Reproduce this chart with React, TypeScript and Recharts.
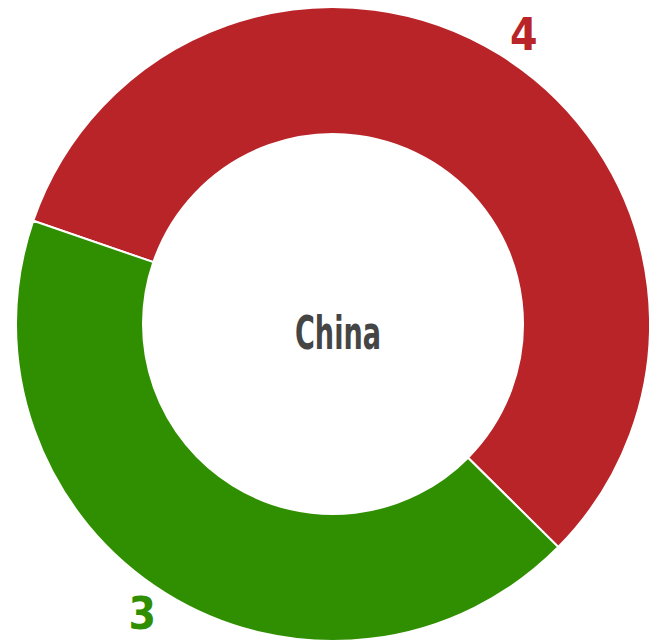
import React from "react";
import { PieChart, Pie, Cell } from "recharts";

/* data ------------------------------------------------------------ */
const CATEGORIES = ["A", "B"];
const VALUES = [4, 3];
const COLORS = ["#B92429", "#2F8F00"];
const CENTER_LABEL = "China";

const FONT = "'Liberation Sans Narrow', 'DejaVu Sans Condensed', 'Roboto', sans-serif";
const RAD = Math.PI / 180;

const pieData = CATEGORIES.map((name, i) => ({ name, value: VALUES[i] }));

/* outside value label */
const renderLabel = (p: any) => {
  const ang = (p.midAngle - 1.5) * RAD;
  const r = p.outerRadius + 30;
  const x = p.cx + r * Math.cos(-ang);
  const y = p.cy + r * Math.sin(-ang);
  return (
    <text
      x={x}
      y={y}
      fill={COLORS[p.index]}
      textAnchor="middle"
      dominantBaseline="central"
      fontFamily={FONT}
      fontWeight="bold"
      fontSize={44}
    >
      {p.value}
    </text>
  );
};

export default function App() {
  return (
    <div style={{ position: "absolute", left: 0, top: 0, width: 649, height: 643 }}>
      <PieChart width={649} height={643} margin={{ top: 0, right: 0, bottom: 0, left: 0 }}>
        <Pie
          data={pieData}
          dataKey="value"
          nameKey="name"
          cx={333}
          cy={324}
          innerRadius={190}
          outerRadius={317}
          startAngle={161}
          endAngle={-199}
          stroke="#ffffff"
          strokeWidth={2}
          label={renderLabel}
          labelLine={false}
          isAnimationActive={false}
        >
          {pieData.map((d, i) => (
            <Cell key={d.name} fill={COLORS[i]} />
          ))}
        </Pie>
      </PieChart>

      {/* center title */}
      <svg
        width={649}
        height={643}
        style={{ position: "absolute", left: 0, top: 0, pointerEvents: "none" }}
      >
        <text
          x={338}
          y={332}
          textAnchor="middle"
          dominantBaseline="central"
          fill="#454545"
          fontFamily={FONT}
          fontWeight="bold"
          fontSize={47}
          textLength={86}
          lengthAdjust="spacingAndGlyphs"
        >
          {CENTER_LABEL}
        </text>
      </svg>
    </div>
  );
}
